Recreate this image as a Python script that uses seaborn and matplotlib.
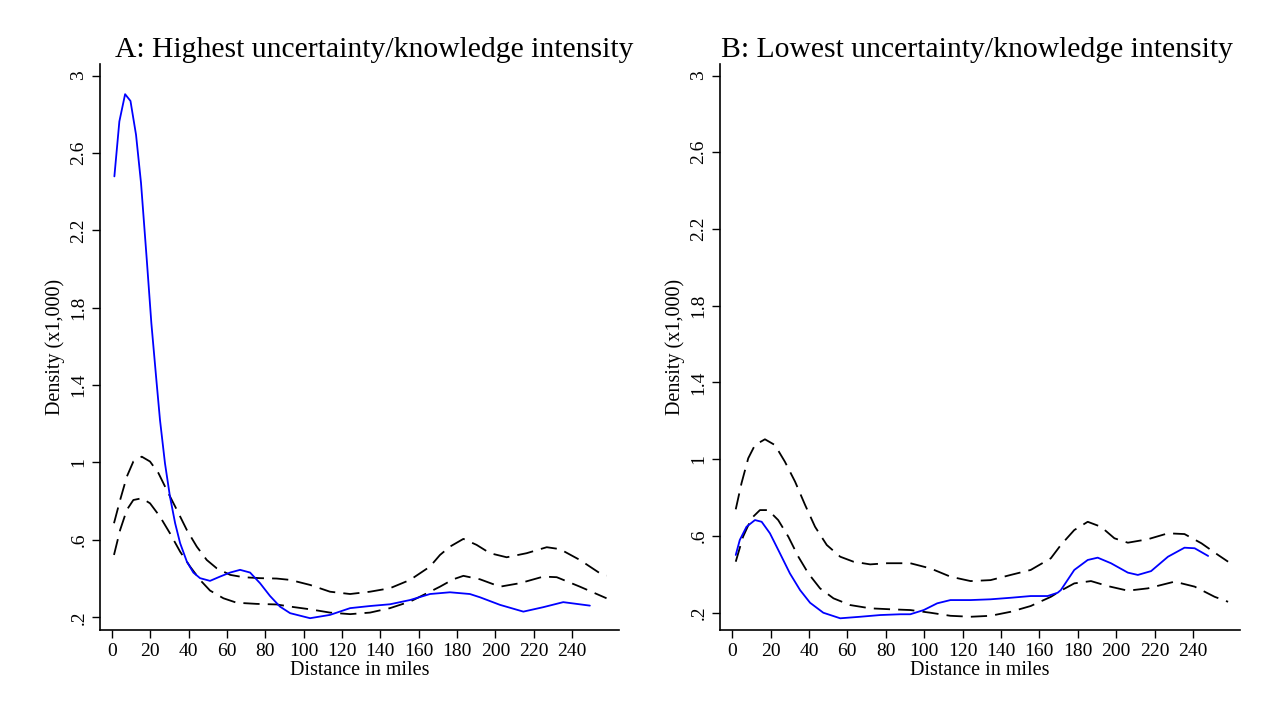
import seaborn as sns
import matplotlib.pyplot as plt
import pandas as pd

# Panel A: highest uncertainty/knowledge intensity
a_blue_x = [1.2, 3.8, 6.8, 9.6, 12.5, 15.1, 18.1, 20.5, 23.1, 25, 27.6, 30.2, 32.9, 35.5, 39, 42.4,
            45.9, 51.1, 56.3, 61.6, 66.8, 72, 77.2, 82.4, 87.6, 92.9, 103.3, 113.7, 124.2, 134.6,
            145, 155.5, 165.9, 176.3, 186.7, 192, 202.4, 214.6, 225, 235.4, 249.3]
a_blue_y = [2.479, 2.763, 2.904, 2.869, 2.694, 2.445, 2.049, 1.72, 1.428, 1.22, 0.996, 0.824, 0.686,
            0.583, 0.488, 0.431, 0.402, 0.388, 0.41, 0.431, 0.445, 0.431, 0.376, 0.31, 0.255, 0.221,
            0.195, 0.212, 0.247, 0.258, 0.267, 0.289, 0.32, 0.329, 0.32, 0.303, 0.264, 0.229, 0.252,
            0.278, 0.26]
a_up_x = [1.0, 4.2, 7.7, 11.1, 15.5, 19.8, 24.2, 28.5, 33.8, 39, 44.2, 49.4, 54.6, 61.6, 68.5, 77.2,
          85.9, 92.9, 103.3, 113.7, 124.2, 134.6, 145, 155.5, 165.9, 171.1, 176.3, 183.3, 190.2,
          197.2, 205.9, 216.3, 226.8, 233.7, 244.1, 254.6, 258]
a_up_y = [0.686, 0.806, 0.927, 1.005, 1.03, 1.005, 0.945, 0.858, 0.755, 0.651, 0.565, 0.496, 0.453,
          0.419, 0.407, 0.402, 0.4, 0.393, 0.367, 0.332, 0.32, 0.332, 0.35, 0.393, 0.462, 0.522,
          0.565, 0.605, 0.574, 0.531, 0.51, 0.531, 0.562, 0.552, 0.496, 0.427, 0.415]
a_lo_x = [1.0, 4.2, 7.7, 11.1, 15.5, 19.8, 25, 30.2, 35.5, 40.7, 45.9, 51.1, 58.1, 65, 75.5, 85.9,
          92.9, 103.3, 113.7, 124.2, 134.6, 145, 155.5, 165.9, 171.1, 178, 183.3, 192, 202.4,
          212.8, 225, 232, 244.1, 258]
a_lo_y = [0.522, 0.651, 0.755, 0.806, 0.815, 0.789, 0.72, 0.634, 0.539, 0.462, 0.393, 0.338, 0.298,
          0.275, 0.269, 0.266, 0.255, 0.241, 0.224, 0.216, 0.224, 0.247, 0.281, 0.332, 0.358, 0.396,
          0.414, 0.396, 0.358, 0.376, 0.41, 0.407, 0.358, 0.298]

# Panel B: lowest uncertainty/knowledge intensity
b_blue_x = [1.9, 4, 7.5, 11.9, 15.4, 19.7, 24.9, 30.1, 35.4, 40.6, 47.5, 56.3, 66.7, 77.2, 87.6,
            92.8, 99.8, 106.8, 113.7, 124.2, 134.6, 145.1, 155.5, 164.3, 169.5, 171.2, 178.2, 185.2,
            190.4, 197.3, 206.1, 211.3, 218.2, 227, 235.6, 240.9, 247.9]
b_blue_y = [0.501, 0.579, 0.648, 0.683, 0.674, 0.614, 0.51, 0.405, 0.318, 0.252, 0.2, 0.171, 0.179,
            0.188, 0.192, 0.192, 0.214, 0.249, 0.266, 0.266, 0.27, 0.278, 0.287, 0.287, 0.304, 0.318,
            0.423, 0.475, 0.487, 0.458, 0.409, 0.397, 0.417, 0.492, 0.539, 0.536, 0.496]
b_up_x = [1.9, 4.9, 8.4, 11.9, 17.1, 22.3, 27.5, 32.8, 38, 43.2, 49.3, 56.3, 63.2, 71.9, 80.7, 87.6,
          92.8, 103.3, 113.7, 124.2, 134.6, 145.1, 155.5, 166, 171.2, 178.2, 185.2, 192.1, 199.1,
          206.1, 216.5, 227, 235.6, 244.4, 253.1, 258.3]
b_up_y = [0.739, 0.875, 1.005, 1.074, 1.104, 1.074, 0.987, 0.883, 0.762, 0.648, 0.553, 0.492, 0.466,
          0.452, 0.458, 0.458, 0.458, 0.431, 0.388, 0.365, 0.37, 0.397, 0.423, 0.484, 0.553, 0.631,
          0.674, 0.648, 0.588, 0.565, 0.583, 0.614, 0.61, 0.562, 0.501, 0.466]
b_lo_x = [1.9, 5.7, 10.1, 14.5, 18.8, 24, 29.3, 34.5, 39.7, 45.8, 52.8, 61.5, 71.9, 82.4, 92.8,
          103.3, 113.7, 124.2, 134.6, 145.1, 155.5, 166, 171.2, 178.2, 186.9, 195.6, 206.1, 216.5,
          230.4, 240.9, 251.3, 258.3]
b_lo_y = [0.466, 0.596, 0.692, 0.735, 0.735, 0.683, 0.596, 0.492, 0.405, 0.327, 0.275, 0.24, 0.223,
          0.218, 0.214, 0.2, 0.184, 0.179, 0.184, 0.205, 0.235, 0.283, 0.315, 0.353, 0.365, 0.339,
          0.315, 0.327, 0.362, 0.336, 0.283, 0.257]

x_ticks = list(range(0, 241, 20))
y_ticks = [0.2, 0.6, 1.0, 1.4, 1.8, 2.2, 2.6, 3.0]
y_tick_labels = [".2", ".6", "1", "1.4", "1.8", "2.2", "2.6", "3"]

sns.set_style("ticks")
plt.rcParams["font.family"] = ["Liberation Serif", "DejaVu Serif"]
plt.rcParams["text.color"] = "black"

fig = plt.figure(figsize=(12.77, 7.19), dpi=100)
W, H = 1277, 719


def make_axes(x0, x1, y0, y1):
    return fig.add_axes([x0 / W, 1 - y1 / H, (x1 - x0) / W, (y1 - y0) / H])


panels = [
    ("A: Highest uncertainty/knowledge intensity", make_axes(100, 619, 64, 630),
     (a_blue_x, a_blue_y), (a_up_x, a_up_y), (a_lo_x, a_lo_y), 0.134, 0.528),
    ("B: Lowest uncertainty/knowledge intensity", make_axes(720, 1240, 64, 630),
     (b_blue_x, b_blue_y), (b_up_x, b_up_y), (b_lo_x, b_lo_y), 0.11, 0.494),
]

dash = (0, (9, 4.5))
for title, ax, blue, up, lo, ymin, title_x in panels:
    for (xs, ys), color, ls in [(up, "black", dash), (lo, "black", dash), (blue, "blue", "-")]:
        df = pd.DataFrame({"distance": xs, "density": ys})
        sns.lineplot(data=df, x="distance", y="density", ax=ax, color=color,
                     linestyle=ls, linewidth=1.3, sort=False, estimator=None)
    ax.set_xlim(-6.3, 264.5)
    ax.set_ylim(ymin, 3.06)
    ax.set_xticks(x_ticks)
    ax.set_xticklabels([str(t) for t in x_ticks], fontsize=14)
    ax.set_yticks(y_ticks)
    ax.set_yticklabels(y_tick_labels, fontsize=14, rotation=90, va="center")
    ax.tick_params(length=6, width=1, colors="black", labelcolor="black", pad=3)
    ax.set_xlabel("Distance in miles", fontsize=14.5, labelpad=1, color="black")
    ax.set_ylabel("Density (x1,000)", fontsize=14.5, labelpad=4, color="black")
    ax.set_title(title, fontsize=21.3, x=title_x, pad=5, color="black")
    sns.despine(ax=ax)
    for s in ("left", "bottom"):
        ax.spines[s].set_linewidth(1.2)
        ax.spines[s].set_color("black")

fig.savefig("out.png", dpi=100, facecolor="white")
